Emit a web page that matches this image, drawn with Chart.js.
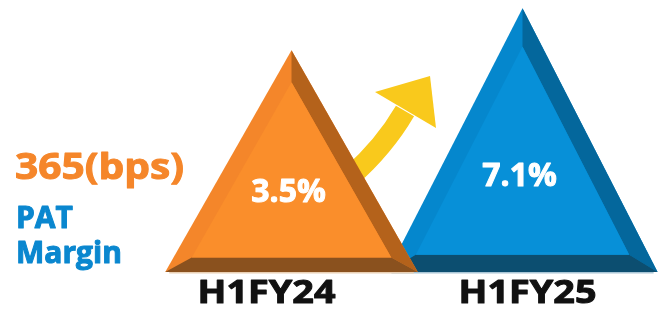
<!DOCTYPE html>
<html>
<head>
<meta charset="utf-8">
<script src="https://cdn.jsdelivr.net/npm/chart.js@4.4.1/dist/chart.umd.min.js"></script>
<style>
  html, body { margin: 0; padding: 0; background: #fff; }
  canvas { display: block; }
</style>
</head>
<body>
<canvas id="marginChart" width="666" height="329"></canvas>
<script>
// PAT margin, first half of each fiscal year
const periods = ['H1FY24', 'H1FY25'];
const patMargin = [3.5, 7.1];
const changeBps = 365;
const sideTitle = ['PAT', 'Margin'];

// per-pyramid colours: main face, left bevel, right bevel, bottom bevel, floor line
const faces = [
    { main: '#fa8e2b', left: '#f4862a', right: '#b4621b', bottom: '#8a511e', floor: '#e9cfb3' },
    { main: '#0790d8', left: '#0587cd', right: '#04679c', bottom: '#0c4e70', floor: '#a9c6d6' }
];
const labelNudge = [-25, 5];
const FONT = '"Open Sans", "DejaVu Sans", sans-serif';

function drawPyramid(ctx, cx, top, base, half, c) {
    const h = base - top;
    const s = 0.79;
    const fy = base - 0.31 * h;
    const A = [cx, top], L = [cx - half, base], R = [cx + half, base];
    const inner = p => [cx + s * (p[0] - cx), fy + s * (p[1] - fy)];
    const A2 = inner(A), L2 = inner(L), R2 = inner(R);
    const poly = (pts, color) => {
        ctx.beginPath();
        ctx.moveTo(pts[0][0], pts[0][1]);
        pts.slice(1).forEach(p => ctx.lineTo(p[0], p[1]));
        ctx.closePath();
        ctx.fillStyle = color;
        ctx.fill();
    };
    poly([A, L, R], c.left);
    poly([A, R, R2, A2], c.right);
    poly([L, R, R2, L2], c.bottom);
    poly([A2, L2, R2], c.main);
    ctx.fillStyle = c.floor;
    ctx.fillRect(cx - half + 4, base, 2 * half - 8, 1.5);
}

function drawArrow(ctx) {
    ctx.save();
    ctx.strokeStyle = '#f9c91c';
    ctx.fillStyle = '#f9c91c';
    ctx.lineWidth = 21;
    ctx.beginPath();
    ctx.moveTo(350, 177);
    ctx.quadraticCurveTo(384, 147, 405, 111);
    ctx.stroke();
    ctx.beginPath();
    ctx.moveTo(430, 76);
    ctx.lineTo(375, 92);
    ctx.lineTo(436, 128);
    ctx.closePath();
    ctx.fill();
    ctx.restore();
}

// bold text with a thin outline in the same colour for a heavier stroke
function heavyText(ctx, text, x, y, sx, align) {
    ctx.save();
    ctx.translate(x, y);
    ctx.scale(sx, 1);
    ctx.textAlign = align;
    ctx.lineJoin = 'round';
    ctx.lineWidth = 1;
    ctx.strokeStyle = ctx.fillStyle;
    ctx.fillText(text, 0, 0);
    ctx.strokeText(text, 0, 0);
    ctx.restore();
}

const pyramidPlugin = {
    id: 'pyramids',
    beforeDatasetsDraw(chart) {
        const ctx = chart.ctx;
        const yScale = chart.scales.y;
        const floor = yScale.getPixelForValue(yScale.min);
        const bars = chart.getDatasetMeta(0).data;
        drawArrow(ctx);
        // later period first so the earlier one overlaps it
        for (let i = bars.length - 1; i >= 0; i--) {
            const bar = bars[i];
            const h = floor - bar.y;
            const half = (bar.width + 0.42 * h) / 2;
            drawPyramid(ctx, bar.x, bar.y, floor, half, faces[i]);
        }
    },
    afterDatasetsDraw(chart) {
        const ctx = chart.ctx;
        const yScale = chart.scales.y;
        const floor = yScale.getPixelForValue(yScale.min);
        const bars = chart.getDatasetMeta(0).data;
        ctx.save();
        ctx.textBaseline = 'alphabetic';
        bars.forEach((bar, i) => {
            const h = floor - bar.y;
            ctx.fillStyle = '#ffffff';
            ctx.font = 'bold 32px ' + FONT;
            heavyText(ctx, patMargin[i].toFixed(1) + '%', bar.x - 3, floor - 0.37 * h + 12, 1, 'center');
            ctx.fillStyle = '#111111';
            ctx.font = 'bold 32px ' + FONT;
            heavyText(ctx, periods[i], bar.x + labelNudge[i], 303, 1.18, 'center');
        });
        ctx.fillStyle = '#f5862a';
        ctx.font = 'bold 36px ' + FONT;
        heavyText(ctx, changeBps + '(bps)', 15, 179, 1.13, 'left');
        ctx.fillStyle = '#0a87cf';
        ctx.font = 'bold 30px ' + FONT;
        heavyText(ctx, sideTitle[0], 16, 228, 1, 'left');
        heavyText(ctx, sideTitle[1], 16, 263, 1, 'left');
        ctx.restore();
    }
};

new Chart(document.getElementById('marginChart'), {
    type: 'bar',
    data: {
        labels: periods,
        datasets: [{
            label: 'PAT Margin',
            data: patMargin,
            backgroundColor: 'rgba(0,0,0,0)',
            borderWidth: 0,
            barPercentage: 0.69,
            categoryPercentage: 1
        }]
    },
    options: {
        responsive: false,
        animation: false,
        layout: { padding: { left: 176, right: 28, top: 0, bottom: 57 } },
        plugins: { legend: { display: false }, tooltip: { enabled: false } },
        scales: {
            x: { display: false },
            y: { display: false, min: -15.5, max: 7.8 }
        }
    },
    plugins: [pyramidPlugin]
});
</script>
</body>
</html>
